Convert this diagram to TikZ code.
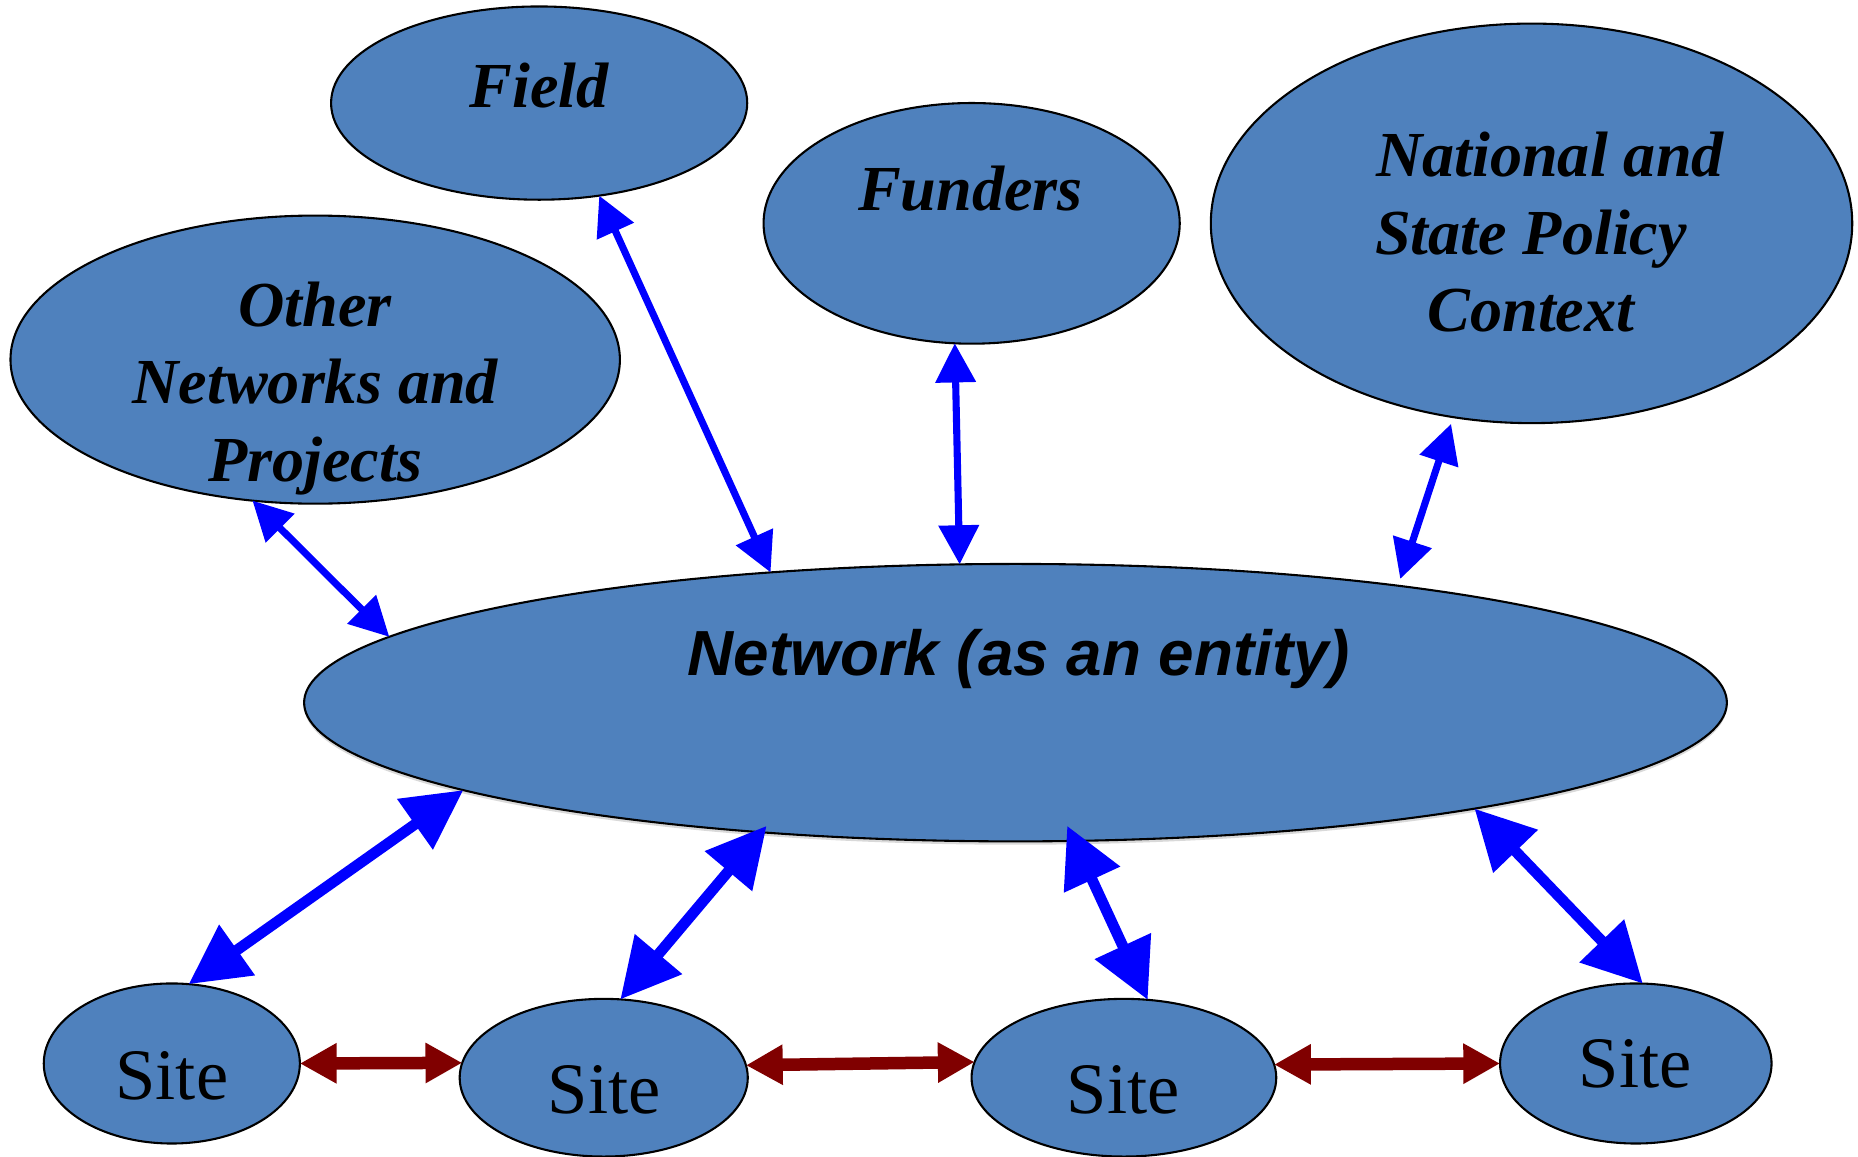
\documentclass[tikz,border=0pt]{standalone}
\usepackage{fontspec}
\setmainfont{Liberation Serif}
\newfontfamily\arialfont{Liberation Sans}
\usetikzlibrary{shapes.geometric,arrows.meta,shadows}

\definecolor{blobblue}{HTML}{4F81BD}
\definecolor{linkblue}{HTML}{0000FF}
\definecolor{peerred}{HTML}{800000}

\begin{document}
\begin{tikzpicture}[x=0.01cm,y=-0.01cm,
  blob/.style={ellipse,draw,line width=0.5pt,fill=blobblue,inner sep=0pt,outer sep=0pt},
  lbl/.style={font=\fontsize{15.4}{18.6}\selectfont\bfseries\itshape,align=center,anchor=base},
  netlbl/.style={font=\arialfont\fontsize{15.3}{18}\selectfont\bfseries\itshape,anchor=base},
  sitelbl/.style={font=\fontsize{17.4}{20}\selectfont,anchor=base},
  linkarrow/.style={draw=linkblue,line width=1.7pt,
    {Triangle[length=0.33cm,width=0.33cm]}-{Triangle[length=0.33cm,width=0.33cm]}},
  sitearrow/.style={draw=linkblue,line width=2.6pt,
    {Triangle[length=0.5cm,width=0.5cm]}-{Triangle[length=0.5cm,width=0.5cm]}},
  peerarrow/.style={draw=peerred,line width=3pt,
    {Triangle[length=0.31cm,width=0.32cm]}-{Triangle[length=0.31cm,width=0.32cm]}}]
  \useasboundingbox (0,0) rectangle (1568,976);

  % outer context
  \node[blob,minimum width=3.51cm,minimum height=1.63cm] (field) at (455,87) {};
  \node[lbl] (fieldtxt) at (455,91) {Field};
  \node[blob,minimum width=3.51cm,minimum height=2.03cm] (funders) at (820,188.5) {};
  \node[lbl] (funderstxt) at (819,178) {Funders};
  \node[blob,minimum width=5.41cm,minimum height=3.37cm] (policy) at (1292.5,188.5) {};
  \node[lbl] (policytxt) at (1292,280) {\hspace*{0.32cm}National and\\State Policy\\Context};
  \node[blob,minimum width=5.14cm,minimum height=2.43cm] (other) at (266,303.5) {};
  \node[lbl] (othertxt) at (266,406) {Other\\Networks and\\Projects};

  % the network
  \node[blob,minimum width=12cm,minimum height=2.34cm,
    drop shadow={shadow xshift=0pt,shadow yshift=-0.8pt,fill=black!25,opacity=0.6}] (net) at (857,593) {};
  \node[netlbl] (nettxt) at (860,570) {Network (as an entity)};

  % sites
  \node[blob,minimum width=2.16cm,minimum height=1.35cm] (site1) at (145,897.5) {};
  \node[sitelbl] (site1txt) at (145,928) {Site};
  \node[blob,minimum width=2.43cm,minimum height=1.33cm] (site2) at (509.5,909.5) {};
  \node[sitelbl] (site2txt) at (510,940) {Site};
  \node[blob,minimum width=2.57cm,minimum height=1.33cm] (site3) at (948.5,909.5) {};
  \node[sitelbl] (site3txt) at (948,940) {Site};
  \node[blob,minimum width=2.29cm,minimum height=1.35cm] (site4) at (1380.5,897.5) {};
  \node[sitelbl] (site4txt) at (1380,918) {Site};

  % links to the network
  \draw[linkarrow] (field.303) -- (net.152.3);
  \draw[linkarrow] (funders.262.8) -- (net.112);
  \draw[linkarrow,shorten <=0.06cm,shorten >=0.06cm] (policy.248.6) -- (net.17.4);
  \draw[linkarrow] (other.246.5) -- (net.174.1);

  \draw[sitearrow] (site1.78) -- (net.189.4);
  \draw[sitearrow,shorten >=-0.07cm] (site2.78) -- (net.207.7);
  \draw[sitearrow,shorten >=-0.14cm] (site3.73.3) -- (net.293.7);
  \draw[sitearrow] (site4.85.4) -- (net.347.7);

  % site to site
  \draw[peerarrow] (site1.east) -- (site2.174.5);
  \draw[peerarrow] (site2.5.5) -- (site3.174.5);
  \draw[peerarrow] (site3.5.5) -- (site4.west);
\end{tikzpicture}
\end{document}
